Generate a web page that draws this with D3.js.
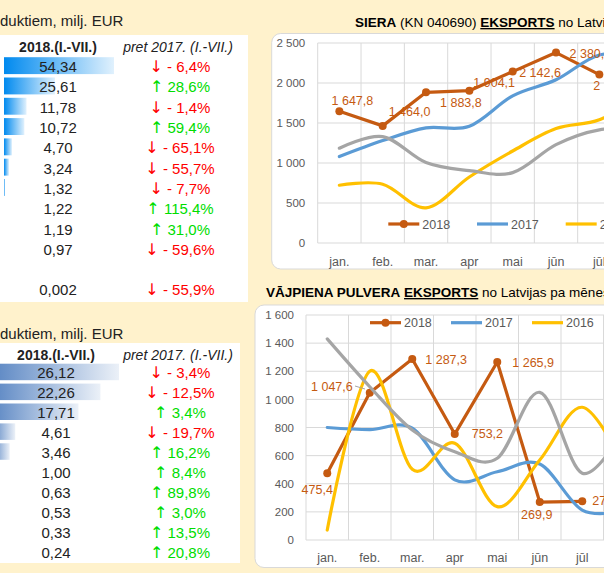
<!DOCTYPE html>
<html>
<head>
<meta charset="utf-8">
<script src="https://cdn.jsdelivr.net/npm/d3@7"></script>
<style>
  body { margin: 0; background: #FFF2CC; }
  svg { display: block; font-family: "Liberation Sans", Arial, sans-serif; }
</style>
</head>
<body>
<div id="d3-container"></div>
<script>
// ---------- data ----------
var months = ["jan.", "feb.", "mar.", "apr", "mai", "jūn", "jūl", "aug.", "sep.", "okt.", "nov.", "dec."];
var seriesNames = ["2018", "2017", "2016", "2015"];

// SIERA (KN 040690) eksports, t
var cheese2018 = [1647.8, 1464.0, 1883.8, 1904.1, 2142.6, 2380.5, 2104.7];
var cheese2017 = [1080, 1280, 1440, 1460, 1840, 2040, 2350, 2320];
var cheese2016 = [722, 735, 440, 825, 1150, 1430, 1540, 1850];
var cheese2015 = [1185, 1330, 1005, 905, 880, 1230, 1415, 1420];

// VĀJPIENA PULVERA eksports, t
var powder2018 = [475.4, 1047.6, 1287.3, 753.2, 1265.9, 269.9, 275.1];
var powder2017 = [800, 785, 795, 428, 485, 540, 213, 210];
var powder2016 = [71, 1200, 503, 688, 237, 569, 944, 520];
var powder2015 = [1430, 1090, 782, 628, 581, 1050, 475, 800];

// tables, milj. EUR
var table1Values = [54.34, 25.61, 11.78, 10.72, 4.70, 3.24, 1.32, 1.22, 1.19, 0.97, null, 0.002];
var table1Change = [-6.4, 28.6, -1.4, 59.4, -65.1, -55.7, -7.7, 115.4, 31.0, -59.6, null, -55.9];
var table2Values = [26.12, 22.26, 17.71, 4.61, 3.46, 1.00, 0.63, 0.53, 0.33, 0.24];
var table2Change = [-3.4, -12.5, 3.4, -19.7, 16.2, 8.4, 89.8, 3.0, 13.5, 20.8];

var tableCaption = "duktiem, milj. EUR";
var tableHead1 = "2018.(I.-VII.)";
var tableHead2 = "pret 2017. (I.-VII.)";

var colors = ["#C55A11", "#5B9BD5", "#FFC000", "#A5A5A5"];

// ---------- setup ----------
var W = 604, H = 573;
var svg = d3.select("#d3-container").append("svg")
    .attr("width", W)
    .attr("height", H);

svg.append("rect").attr("width", W).attr("height", H).attr("fill", "#FFF2CC");
var defs = svg.append("defs");

var loc = d3.formatLocale({ decimal: ",", thousands: "\u00a0", grouping: [3], currency: ["", ""] });
var fmtTick = loc.format(",d");
var fmtLabel = loc.format(",.1f");
var fmt2 = loc.format(".2f");
var fmt3 = loc.format(".3f");
var fmtPct = loc.format(".1f");

// ---------- tables ----------
function drawTable(cfg) {
    var g = svg.append("g");

    g.append("text")
        .attr("x", 0).attr("y", cfg.captionY)
        .attr("font-size", 15).attr("fill", "#222")
        .text(tableCaption);

    g.append("rect")
        .attr("x", -1).attr("y", cfg.top)
        .attr("width", cfg.width + 1).attr("height", cfg.height)
        .attr("fill", "#fff");

    g.append("text")
        .attr("x", cfg.valX).attr("y", cfg.headY)
        .attr("text-anchor", "middle").attr("font-size", 14).attr("font-weight", "bold")
        .attr("fill", "#222")
        .text(tableHead1);
    g.append("text")
        .attr("x", cfg.pctX - 2).attr("y", cfg.headY)
        .attr("text-anchor", "middle").attr("font-size", 14).attr("font-style", "italic")
        .attr("fill", "#222")
        .text(tableHead2);

    var grad = defs.append("linearGradient").attr("id", cfg.gradId);
    grad.append("stop").attr("offset", "0%").attr("stop-color", cfg.barColor);
    grad.append("stop").attr("offset", "100%").attr("stop-color", cfg.barColor).attr("stop-opacity", 0.12);

    var xs = d3.scaleLinear()
        .domain([0, d3.max(cfg.values)])
        .range(cfg.barRange);

    var rows = cfg.values.map(function(v, i) { return { v: v, c: cfg.change[i], i: i }; });

    g.selectAll(".bar")
        .data(rows.slice(0, cfg.barsShown))
        .enter().append("rect")
        .attr("class", "bar")
        .attr("x", cfg.barX0)
        .attr("y", function(d) { return cfg.rowTop + d.i * cfg.rowH + 1.7; })
        .attr("width", function(d) { return Math.max(1, xs(d.v) - cfg.barX0); })
        .attr("height", cfg.rowH - 3.4)
        .attr("fill", "url(#" + cfg.gradId + ")");

    var filled = rows.filter(function(d) { return d.v !== null; });

    g.selectAll(".val")
        .data(filled)
        .enter().append("text")
        .attr("class", "val")
        .attr("x", cfg.valX)
        .attr("y", function(d) { return cfg.rowTop + d.i * cfg.rowH + cfg.rowH / 2 + 6.5; })
        .attr("text-anchor", "middle").attr("font-size", 15).attr("fill", "#222")
        .text(function(d) { return d.v < 0.01 ? fmt3(d.v) : fmt2(d.v); });

    var pct = g.selectAll(".pct")
        .data(filled)
        .enter().append("text")
        .attr("class", "pct")
        .attr("x", cfg.pctX)
        .attr("y", function(d) { return cfg.rowTop + d.i * cfg.rowH + cfg.rowH / 2 + 6.5; })
        .attr("text-anchor", "middle").attr("font-size", 15)
        .attr("fill", function(d) { return d.c < 0 ? "#FF0000" : "#00DD00"; });
    // arrow glyph from DejaVu, it is drawn larger there like in the sheet
    pct.append("tspan")
        .attr("font-family", "DejaVu Sans").attr("font-size", 16)
        .text(function(d) { return d.c < 0 ? "\u2193" : "\u2191"; });
    pct.append("tspan")
        .text(function(d) { return d.c < 0 ? " - " + fmtPct(-d.c) + "%" : " " + fmtPct(d.c) + "%"; });
}

drawTable({
    values: table1Values, change: table1Change, barsShown: 7,
    captionY: 25.5, top: 35, width: 248, height: 267, headY: 52,
    rowTop: 55.5, rowH: 20.3, valX: 58, pctX: 180,
    barX0: 4, barRange: [2.3, 114], barColor: "#008AEF", gradId: "g1"
});
drawTable({
    values: table2Values, change: table2Change, barsShown: 5,
    captionY: 338.5, top: 343, width: 240, height: 220, headY: 359.5,
    rowTop: 362, rowH: 19.9, valX: 56, pctX: 180,
    barX0: -8, barRange: [-7, 119], barColor: "#5A86C3", gradId: "g2"
});

// ---------- line charts ----------
function drawChart(cfg) {
    var g = svg.append("g");

    g.append("rect")
        .attr("x", cfg.box[0]).attr("y", cfg.box[1])
        .attr("width", cfg.box[2]).attr("height", cfg.box[3])
        .attr("rx", 9)
        .attr("fill", "#fff").attr("stroke", "#D9D9D9");

    var t = g.append("text")
        .attr("x", cfg.titleX).attr("y", cfg.titleY)
        .attr("font-size", 13.5).attr("fill", "#000");
    cfg.title.forEach(function(p) {
        var s = t.append("tspan").text(p[0]);
        if (p[1]) s.attr("font-weight", "bold");
        if (p[2]) s.attr("text-decoration", "underline");
    });

    var x = d3.scaleBand()
        .domain(months)
        .range([cfg.left, cfg.left + months.length * cfg.band]);
    var y = d3.scaleLinear()
        .domain([0, cfg.max])
        .range([cfg.bottom, cfg.top]);
    var ticks = d3.range(0, cfg.max + 1, cfg.step);

    // gridlines
    g.selectAll(".hgrid")
        .data(ticks)
        .enter().append("line")
        .attr("x1", cfg.left).attr("x2", W + 50)
        .attr("y1", function(d) { return y(d); }).attr("y2", function(d) { return y(d); })
        .attr("stroke", "#D9D9D9");
    g.selectAll(".vgrid")
        .data(d3.range(months.length + 1))
        .enter().append("line")
        .attr("x1", function(i) { return cfg.left + i * cfg.band; })
        .attr("x2", function(i) { return cfg.left + i * cfg.band; })
        .attr("y1", cfg.top).attr("y2", cfg.bottom)
        .attr("stroke", "#D9D9D9");

    // axes labels
    var ya = g.append("g")
        .attr("transform", "translate(" + cfg.left + ",0)")
        .call(d3.axisLeft(y).tickValues(ticks).tickSize(0).tickPadding(cfg.yPad).tickFormat(fmtTick));
    var xa = g.append("g")
        .attr("transform", "translate(0," + cfg.bottom + ")")
        .call(d3.axisBottom(x).tickSize(0).tickPadding(cfg.xPad));
    [ya, xa].forEach(function(a) {
        a.select(".domain").remove();
        a.selectAll("text")
            .attr("font-family", "Liberation Sans, Arial, sans-serif")
            .attr("font-size", a === ya ? 11.5 : 12.5)
            .attr("fill", "#595959");
    });
    // months that fall past the right edge of the picture
    xa.selectAll(".tick").filter(function(d) { return x(d) > W; }).remove();

    function px(i) { return x(months[i]) + cfg.band / 2; }

    var smooth = d3.line()
        .x(function(d, i) { return px(i); })
        .y(function(d) { return y(d); })
        .curve(d3.curveCardinal.tension(0));
    var straight = d3.line()
        .x(function(d, i) { return px(i); })
        .y(function(d) { return y(d); });

    // 2018 under the older years (Excel series order)
    g.append("path")
        .attr("d", straight(cfg.series[0]))
        .attr("fill", "none").attr("stroke", colors[0]).attr("stroke-width", 3.2)
        .attr("stroke-linejoin", "round");
    g.selectAll(".mk")
        .data(cfg.series[0])
        .enter().append("circle")
        .attr("cx", function(d, i) { return px(i); })
        .attr("cy", function(d) { return y(d); })
        .attr("r", 4)
        .attr("fill", colors[0]);

    for (var s = 1; s < cfg.series.length; s++) {
        g.append("path")
            .attr("d", smooth(cfg.series[s]))
            .attr("fill", "none").attr("stroke", colors[s]).attr("stroke-width", 3.2)
            .attr("stroke-linecap", "round");
    }

    // data labels for 2018
    if (cfg.leader) {
        g.append("line")
            .attr("x1", cfg.leader[0]).attr("y1", cfg.leader[1])
            .attr("x2", cfg.leader[2]).attr("y2", cfg.leader[3])
            .attr("stroke", "#A6A6A6");
    }
    g.selectAll(".dl")
        .data(cfg.series[0])
        .enter().append("text")
        .attr("x", function(d, i) { return px(i) + cfg.labelPos[i][1]; })
        .attr("y", function(d, i) { return y(d) + cfg.labelPos[i][2]; })
        .attr("text-anchor", function(d, i) { return cfg.labelPos[i][0]; })
        .attr("font-size", 12.5)
        .attr("fill", colors[0])
        .text(function(d) { return fmtLabel(d); });

    // legend (entries past the edge are left out)
    var lg = g.selectAll(".lg")
        .data(seriesNames.filter(function(d, i) { return cfg.legendX + i * cfg.legendStep < W; }))
        .enter().append("g")
        .attr("transform", function(d, i) { return "translate(" + (cfg.legendX + i * cfg.legendStep) + "," + cfg.legendY + ")"; });
    lg.append("line")
        .attr("x1", 0).attr("x2", 31)
        .attr("stroke", function(d, i) { return colors[i]; })
        .attr("stroke-width", 3.2);
    lg.filter(function(d, i) { return i === 0; })
        .append("circle")
        .attr("cx", 15.5).attr("r", 4).attr("fill", colors[0]);
    lg.append("text")
        .attr("x", 34).attr("y", 4.5)
        .attr("font-size", 12.5).attr("fill", "#595959")
        .text(function(d) { return d; });
}

drawChart({
    title: [["SIERA", true], [" (KN 040690) "], ["EKSPORTS", true, true], [" no Latvijas pa mēnešiem, t"]],
    titleX: 355, titleY: 27,
    box: [271.7, 33.5, 420, 235.5],
    left: 317.7, band: 43.33, top: 43, bottom: 243, max: 2500, step: 500,
    yPad: 12.5, xPad: 14,
    series: [cheese2018, cheese2017, cheese2016, cheese2015],
    labelPos: [["middle", 13, -6.5], ["start", 6, -10], ["start", 14, 14.5], ["start", 4, -4],
               ["start", 6.5, 5], ["start", 13.5, 5], ["start", -6, 15]],
    legendX: 388.3, legendStep: 88.7, legendY: 224
});

drawChart({
    title: [["VĀJPIENA PULVERA", true], [" "], ["EKSPORTS", true, true], [" no Latvijas pa mēnešiem, t"]],
    titleX: 266, titleY: 297,
    box: [255, 305, 420, 262.5],
    left: 306, band: 42.5, top: 315, bottom: 540, max: 1600, step: 200,
    yPad: 12, xPad: 13,
    series: [powder2018, powder2017, powder2016, powder2015],
    labelPos: [["middle", -10, 21], ["end", -17, -2], ["start", 13, 5], ["start", 17, 4],
               ["start", 15, 5], ["middle", -3, 17], ["start", 10, 4]],
    leader: [355, 386, 365, 389],
    legendX: 370, legendStep: 81, legendY: 322.7
});
</script>
</body>
</html>
